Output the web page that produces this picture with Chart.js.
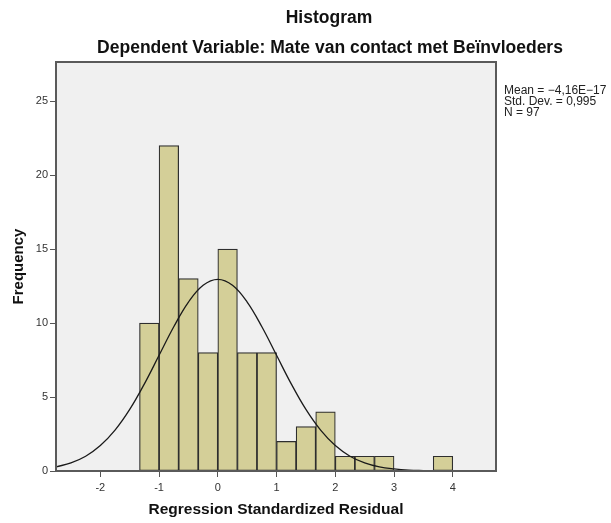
<!DOCTYPE html>
<html>
<head>
<meta charset="utf-8">
<script src="https://cdn.jsdelivr.net/npm/chart.js@4.4.0/dist/chart.umd.min.js"></script>
<style>
	html, body { margin: 0; padding: 0; background: #fff; }
	#wrap { width: 611px; height: 523px; position: relative; }
</style>
</head>
<body>
<div id="wrap"><canvas id="histo"></canvas></div>
<script>
// bin centres (bin width 1/3) and counts
const binCenters = [-1.1667, -0.8333, -0.5, -0.1667, 0.1667, 0.5, 0.8333, 1.1667, 1.5, 1.8333, 2.1667, 2.5, 2.8333, 3.1667, 3.5, 3.8333];
const binCounts = [10, 22, 13, 8, 15, 8, 8, 2, 3, 4, 1, 1, 1, 0, 0, 1];

// normal curve, heights
const curveX = [-2.75, -2.5, -2.25, -2, -1.75, -1.5, -1.25, -1, -0.75, -0.5, -0.25, 0, 0.25, 0.5, 0.75, 1, 1.25, 1.5, 1.75, 2, 2.25, 2.5, 2.75, 3, 3.25, 3.5, 3.75, 4, 4.25, 4.5, 4.75];
const curveY = [0.28, 0.55, 1.0, 1.72, 2.76, 4.16, 5.89, 7.82, 9.75, 11.42, 12.56, 12.96, 12.56, 11.42, 9.75, 7.82, 5.89, 4.16, 2.76, 1.72, 1.0, 0.55, 0.28, 0.14, 0.06, 0.03, 0.01, 0, 0, 0, 0];

const xTicks = [-2, -1, 0, 1, 2, 3, 4];
const yTicks = [0, 5, 10, 15, 20, 25];

const statsLines = ['Mean = \u22124,16E\u221217', 'Std. Dev. = 0,995', 'N = 97'];

const FONT = '"Liberation Sans", Arial, sans-serif';

const boxPlugin = {
	id: 'box',
	beforeDatasetsDraw(chart) {
		const { ctx, chartArea: a } = chart;
		ctx.save();
		ctx.fillStyle = '#f0f0f0';
		ctx.fillRect(a.left, a.top, a.right - a.left, a.bottom - a.top);
		ctx.restore();
	},
	afterDatasetsDraw(chart) {
		const { ctx, chartArea: a } = chart;
		ctx.save();
		ctx.strokeStyle = '#5a5a5a';
		ctx.lineWidth = 2;
		ctx.strokeRect(a.left, a.top, a.right - a.left, a.bottom - a.top);
		ctx.restore();
	},
	afterDraw(chart) {
		const { ctx, chartArea: a } = chart;
		ctx.save();
		ctx.fillStyle = '#111';
		ctx.textAlign = 'center';
		ctx.textBaseline = 'middle';
		ctx.font = 'bold 17.5px ' + FONT;
		ctx.fillText('Histogram', 329, 18);
		ctx.fillText('Dependent Variable: Mate van contact met Be\u00efnvloeders', 330, 48);
		ctx.font = '12px ' + FONT;
		ctx.fillStyle = '#222';
		ctx.textAlign = 'left';
		statsLines.forEach((t, i) => ctx.fillText(t, a.right + 8, 91 + i * 11));
		ctx.restore();
	}
};

const ctx = document.getElementById('histo').getContext('2d');
new Chart(ctx, {
	type: 'bar',
	data: {
		datasets: [
			{
				type: 'line',
				label: 'normal',
				data: curveX.map((x, i) => ({ x: x, y: curveY[i] })),
				borderColor: '#1a1a1a',
				borderWidth: 1.3,
				pointRadius: 0,
				tension: 0.4,
				fill: false,
				order: 0,
			},
			{
				label: 'Frequency',
				data: binCenters.map((x, i) => ({ x: x, y: binCounts[i] })),
				backgroundColor: '#d4cf98',
				borderColor: '#2e2e2e',
				borderWidth: 1.2,
				borderSkipped: false,
				barPercentage: 1,
				categoryPercentage: 1,
				order: 1,
			},
		],
	},
	plugins: [boxPlugin],
	options: {
		responsive: true,
		maintainAspectRatio: false,
		animation: false,
		layout: { padding: { left: 0, right: 115, top: 62, bottom: 0 } },
		plugins: {
			legend: { display: false },
			tooltip: { enabled: false },
		},
		scales: {
			x: {
				type: 'linear',
				min: -2.755,
				max: 4.736,
				offset: false,
				afterBuildTicks: (s) => { s.ticks = xTicks.map(v => ({ value: v })); },
				afterFit: (s) => { s.height = 52; },
				grid: { offset: false, drawOnChartArea: false, drawTicks: true, tickLength: 6, color: '#555' },
				border: { display: false },
				ticks: { color: '#333', font: { family: FONT, size: 11 }, padding: 4, maxRotation: 0 },
				title: {
					display: true,
					text: 'Regression Standardized Residual',
					color: '#111',
					font: { family: FONT, size: 15.5, weight: 'bold' },
					padding: { top: 0, bottom: 4 },
				},
			},
			y: {
				min: 0,
				max: 27.65,
				afterBuildTicks: (s) => { s.ticks = yTicks.map(v => ({ value: v })); },
				afterFit: (s) => { s.width = 56; },
				grid: { drawOnChartArea: false, drawTicks: true, tickLength: 6, color: '#555' },
				border: { display: false },
				ticks: { color: '#333', font: { family: FONT, size: 11 }, padding: 2 },
				title: {
					display: true,
					text: 'Frequency',
					color: '#111',
					font: { family: FONT, size: 15, weight: 'bold' },
					padding: { top: 10, bottom: 0 },
				},
			},
		},
	},
});
</script>
</body>
</html>
